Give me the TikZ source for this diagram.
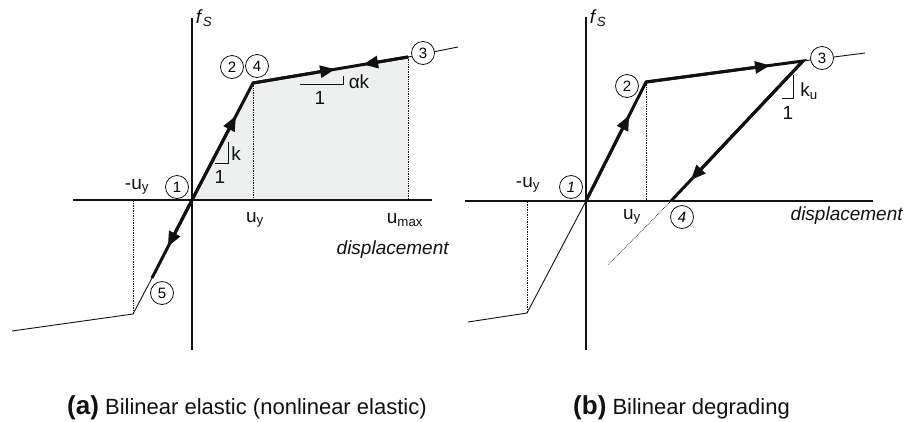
\documentclass[tikz,border=0pt]{standalone}
\usepackage{fontspec}
\setmainfont{Liberation Sans}
\usetikzlibrary{arrows.meta,calc}
\definecolor{areagray}{HTML}{EEF0F0}
\definecolor{ink}{HTML}{111111}

\begin{document}
\begin{tikzpicture}[
  x=1pt,y=-1pt,
  axis/.style={draw=ink,line width=1.4pt},
  curve/.style={draw=ink,line width=3pt,line join=miter},
  thinline/.style={draw=ink,line width=0.9pt},
  guide/.style={draw=ink,densely dotted,line width=0.7pt},
  head/.style={-{Triangle[length=15pt,width=12pt]},draw=ink,line width=3pt},
  state/.style={circle,draw=ink,fill=white,line width=0.8pt,inner sep=0pt,minimum size=23pt,font=\fontsize{15}{15}\selectfont},
  lbl/.style={inner sep=0pt,text=ink,font=\fontsize{19}{19}\selectfont},
  captext/.style={inner sep=0pt,anchor=west,text=ink,font=\fontsize{22}{22}\selectfont}
]
  \useasboundingbox (0,0) rectangle (917,421);

  % (a) bilinear elastic
  \coordinate (a0) at (192,200);
  \coordinate (a2) at (253,83);
  \coordinate (a3) at (408,57);
  \coordinate (a3e) at (458,47);
  \coordinate (a5t) at (152,278);
  \coordinate (a5) at (133,314);
  \coordinate (a5e) at (12,331);
  \fill[areagray] (a0) -- (a2) -- (a3) -- (a3|-a0) -- cycle;
  \draw[guide] (a2) -- (a2|-a0);
  \draw[guide] (a3) -- (a3|-a0);
  \draw[guide] (a5) -- (a5|-a0);
  \draw[axis] (73,200) -- (432,200);
  \draw[axis] (192,18) -- (192,350);
  \draw[thinline] (a3) -- (a3e);
  \draw[thinline] (a5t) -- (a5) -- (a5e);
  \draw[curve] (a5t) -- (a0) -- (a2) -- (a3);
  \draw[head] (a0) -- ($(a0)!0.72!(a2)$);
  \draw[head] (a2) -- ($(a2)!0.53!(a3)$);
  \draw[head] (a3) -- ($(a3)!0.29!(a2)$);
  \draw[head] (a0) -- ($(a0)!0.41!(a5)$);
  \draw[thinline] (215,163) -- (228,163) -- (228,142);
  \draw[thinline] (300,84) -- (343,84) -- (343,76);
  \node[state] (s1a) at (177,187) {1};
  \node[state] (s2a) at (232,67) {2};
  \node[state] (s4a) at (257,66) {4};
  \node[state] (s3a) at (423,53) {3};
  \node[state] (s5a) at (162,293) {5};
  \node[lbl] (fsa) at (204,18) {\textit{f}\textsubscript{\textit{S}}};
  \node[lbl] (mua) at (137,187) {-u\textsubscript{y}};
  \node[lbl] (uya) at (255,220) {u\textsubscript{y}};
  \node[lbl] (uma) at (405,220) {u\textsubscript{max}};
  \node[lbl] (dpa) at (393,250) {\textit{displacement}};
  \node[lbl] (ka) at (236,154) {k};
  \node[lbl] (oa) at (220,177) {1};
  \node[lbl] (aka) at (359,82) {αk};
  \node[lbl] (oka) at (320,98) {1};

  % (b) bilinear degrading
  \coordinate (b0) at (586,201);
  \coordinate (b2) at (646,82);
  \coordinate (b3) at (803,61);
  \coordinate (b3e) at (865,53);
  \coordinate (b4) at (671,201);
  \coordinate (b4e) at (608,265);
  \coordinate (b5) at (527,313);
  \coordinate (b5e) at (468,322);
  \draw[guide] (b2) -- (b2|-b0);
  \draw[guide] (b5) -- (b5|-b0);
  \draw[guide] (b4) -- (b4e);
  \draw[axis] (465,201) -- (873,201);
  \draw[axis] (586,17) -- (586,350);
  \draw[thinline] (b3) -- (b3e);
  \draw[thinline] (b0) -- (b5) -- (b5e);
  \draw[curve] (b0) -- (b2) -- (b3) -- (b4);
  \draw[head] (b0) -- ($(b0)!0.72!(b2)$);
  \draw[head] (b2) -- ($(b2)!0.79!(b3)$);
  \draw[head] (b3) -- ($(b3)!0.85!(b4)$);
  \draw[thinline] (782,98) -- (793,98) -- (793,75);
  \node[state,font=\fontsize{15}{15}\selectfont\itshape] (s1b) at (571,187) {1};
  \node[state] (s2b) at (627,86) {2};
  \node[state] (s3b) at (822,58) {3};
  \node[state,font=\fontsize{15}{15}\selectfont\itshape] (s4b) at (682,217) {4};
  \node[lbl] (fsb) at (598,18) {\textit{f}\textsubscript{\textit{S}}};
  \node[lbl] (mub) at (528,185) {-u\textsubscript{y}};
  \node[lbl] (uyb) at (632,217) {u\textsubscript{y}};
  \node[lbl] (dpb) at (847,216) {\textit{displacement}};
  \node[lbl] (kub) at (809,91) {k\textsubscript{u}};
  \node[lbl] (ob) at (788,113) {1};

  % captions
  \node[captext] (capa) at (67,408) {{\fontsize{26}{26}\selectfont\bfseries (a)} Bilinear elastic (nonlinear elastic)};
  \node[captext] (capb) at (573,408) {{\fontsize{26}{26}\selectfont\bfseries (b)} Bilinear degrading};
\end{tikzpicture}
\end{document}
